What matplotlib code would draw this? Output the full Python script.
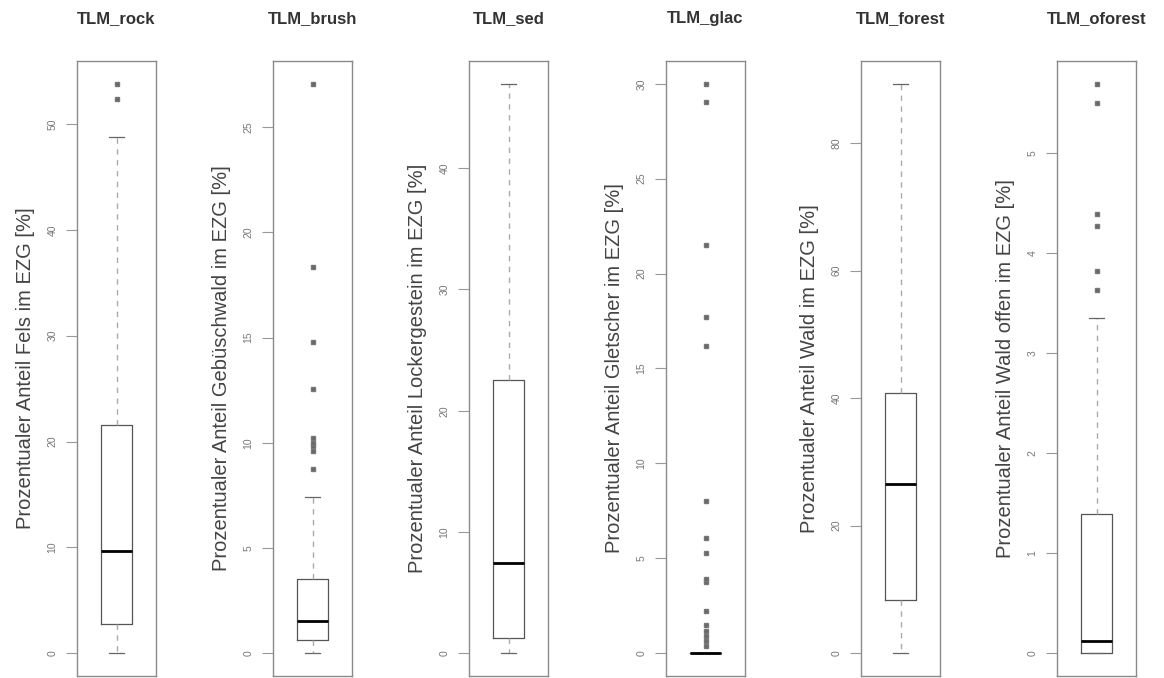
import matplotlib
import matplotlib.pyplot as plt

matplotlib.use("Agg")
plt.rcParams["font.family"] = ["Liberation Sans", "DejaVu Sans"]

# Box statistics (percent of catchment area)
titles = ["TLM_rock", "TLM_brush", "TLM_sed", "TLM_glac", "TLM_forest", "TLM_oforest"]
ylabels = [
    "Prozentualer Anteil Fels im EZG [%]",
    "Prozentualer Anteil Gebüschwald im EZG [%]",
    "Prozentualer Anteil Lockergestein im EZG [%]",
    "Prozentualer Anteil Gletscher im EZG [%]",
    "Prozentualer Anteil Wald im EZG [%]",
    "Prozentualer Anteil Wald offen im EZG [%]",
]
whis_lo = [0.0, 0.0, 0.0, 0.0, 0.0, 0.0]
q1 = [2.8, 0.62, 1.25, 0.0, 8.35, 0.0]
median = [9.7, 1.55, 7.43, 0.0, 26.5, 0.12]
q3 = [21.6, 3.55, 22.5, 0.0, 40.75, 1.395]
whis_hi = [48.8, 7.4, 46.96, 0.0, 89.3, 3.35]
outliers = [
    [52.4, 53.8],
    [8.74, 9.63, 9.85, 10.0, 10.25, 12.55, 14.77, 18.37, 27.06],
    [],
    [0.38, 0.65, 0.89, 1.17, 1.47, 2.22, 3.75, 3.9, 5.3, 6.09, 8.04,
     16.2, 17.7, 21.5, 29.05, 30.0],
    [],
    [3.63, 3.82, 4.27, 4.39, 5.5, 5.69],
]
tick_steps = [10, 5, 10, 5, 20, 1]

fig = plt.figure(figsize=(11.64, 6.78), dpi=100)
W, H = 1164, 678
frame_left = [77, 273, 469, 666, 861, 1057]

for i, title in enumerate(titles):
    ax = fig.add_axes([frame_left[i] / W, 2 / H, 79 / W, 615 / H])
    stats = [{
        "whislo": whis_lo[i], "q1": q1[i], "med": median[i],
        "q3": q3[i], "whishi": whis_hi[i], "fliers": outliers[i],
    }]
    ax.bxp(
        stats, positions=[1], widths=0.42, capwidths=0.21,
        boxprops=dict(color="#555555", linewidth=0.9),
        medianprops=dict(color="black", linewidth=2.0),
        whiskerprops=dict(color="#aaaaaa", linewidth=1.0, linestyle=(0, (3.9, 3.9))),
        capprops=dict(color="#666666", linewidth=0.9),
        flierprops=dict(marker="s", markersize=2.6, markerfacecolor="#666666",
                        markeredgecolor="#777777", linestyle="none"),
    )
    lo = min([whis_lo[i]] + outliers[i])
    hi = max([whis_hi[i]] + outliers[i])
    pad = 0.04 * (hi - lo)
    ax.set_ylim(lo - pad, hi + pad)
    ax.set_xlim(0.46, 1.54)
    step = tick_steps[i]
    ax.set_yticks([step * k for k in range(int(hi // step) + 1)])
    ax.set_xticks([])
    ax.tick_params(axis="y", length=8, width=0.8, color="#999999",
                   labelsize=7.5, labelcolor="#777777", pad=6)
    for lab in ax.get_yticklabels():
        lab.set_rotation(90)
        lab.set_va("center")
    for sp in ax.spines.values():
        sp.set_color("#8a8a8a")
        sp.set_linewidth(1.0)
    ax.set_ylabel(ylabels[i], fontsize=14.5, color="#444444", labelpad=9)
    ax.set_title(title, fontsize=12, fontweight="bold", color="#333333", pad=27)

fig.savefig("out.png", dpi=100)
